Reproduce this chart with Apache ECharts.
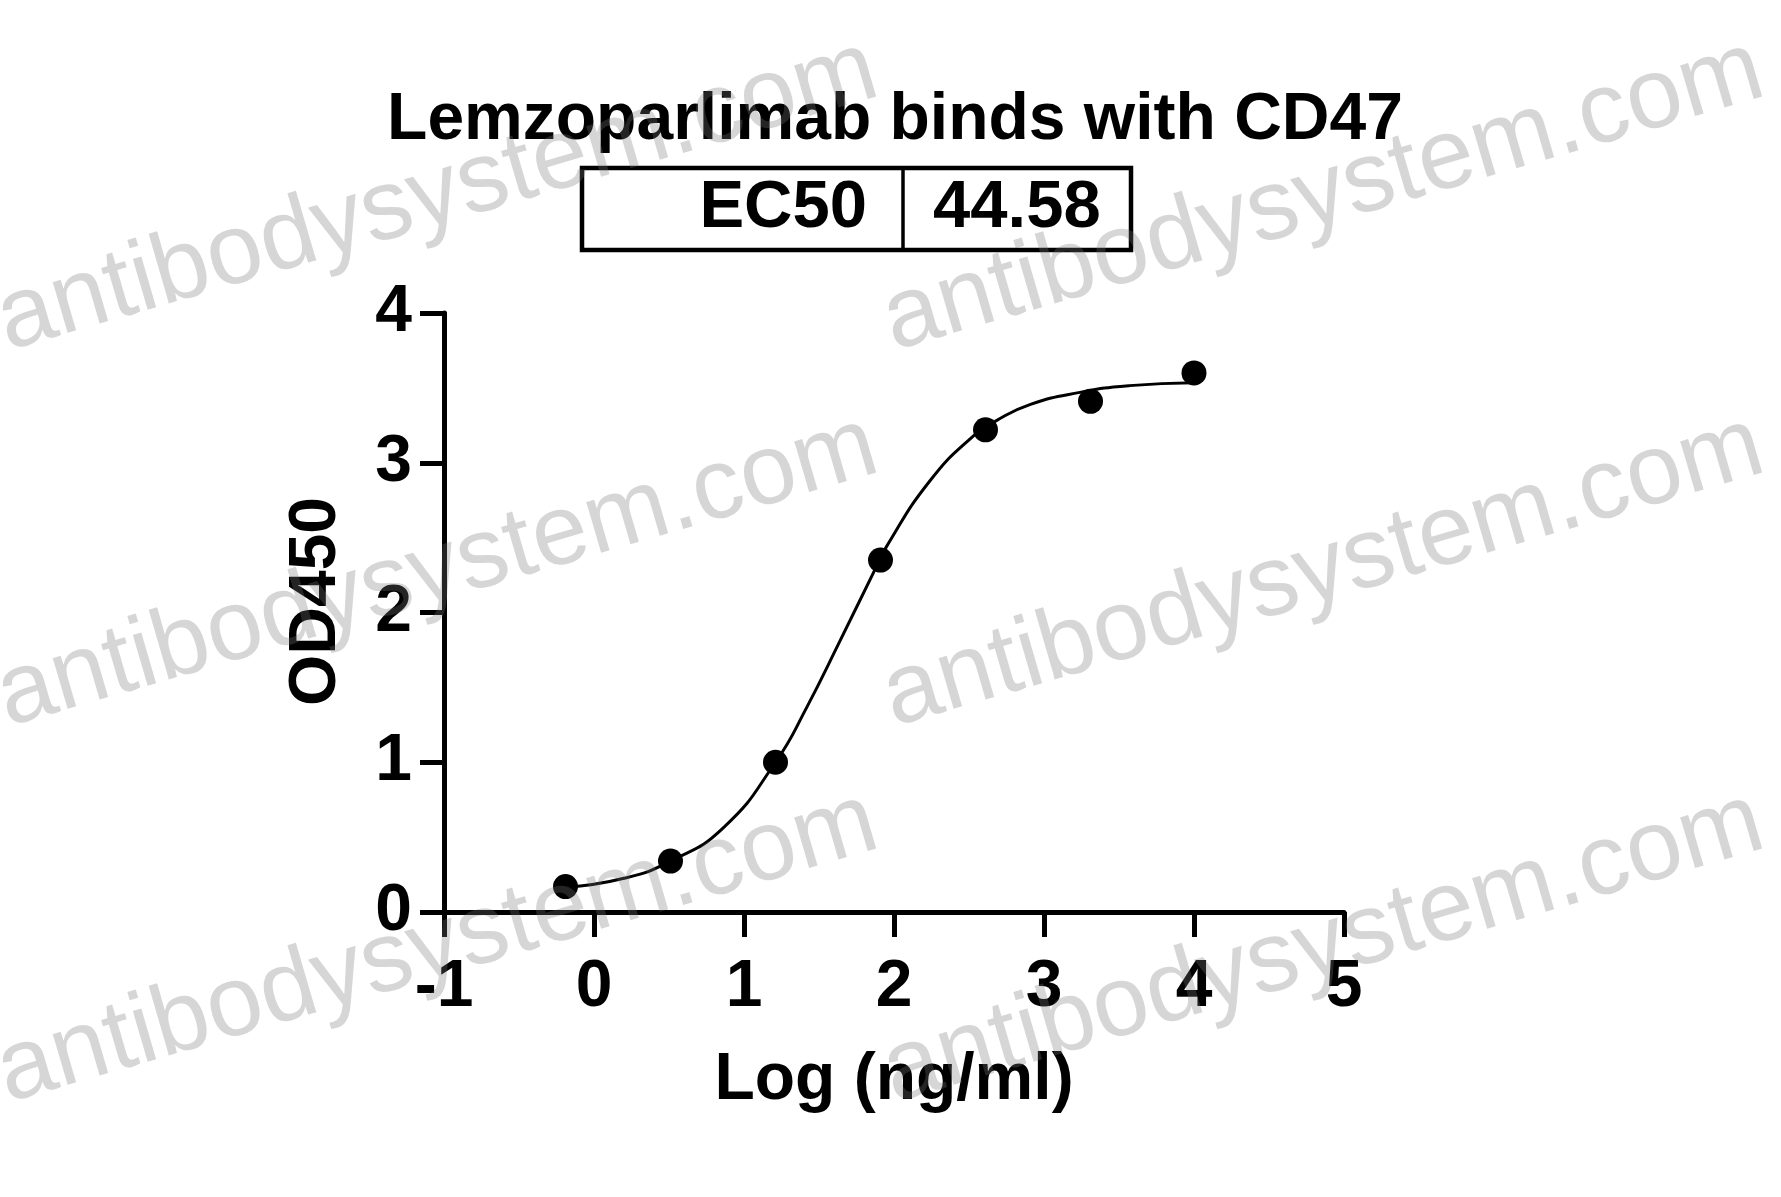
<!DOCTYPE html>
<html>
<head>
<meta charset="utf-8">
<script src="https://cdn.jsdelivr.net/npm/echarts@6/dist/echarts.min.js"></script>
<style>
html,body{margin:0;padding:0;background:#fff;}
#chart{width:1781px;height:1197px;}
</style>
</head>
<body>
<div id="chart"></div>
<script>
// ---- data ----
const titleText = 'Lemzoparlimab binds with CD47';
const ec50Label = 'EC50';
const ec50Value = '44.58';
const xAxisName = 'Log (ng/ml)';
const yAxisName = 'OD450';
const watermarkText = 'antibodysystem.com';

// measured points (log concentration, OD450)
const pointX = [-0.19, 0.51, 1.21, 1.91, 2.61, 3.31, 4.0];
const pointY = [0.17, 0.34, 1.0, 2.35, 3.22, 3.41, 3.60];

// fitted curve
const curveX = [-0.19, 0.20, 0.51, 0.86, 1.21, 1.42, 1.64, 1.86, 1.95, 2.24, 2.53, 2.68, 2.91, 3.24, 3.57, 4.0];
const curveY = [0.165, 0.225, 0.34, 0.56, 1.0, 1.37, 1.81, 2.26, 2.44, 2.88, 3.18, 3.28, 3.39, 3.47, 3.515, 3.535];

const xTicks = [-1, 0, 1, 2, 3, 4, 5];
const yTicks = [0, 1, 2, 3, 4];

const FONT = '"Liberation Sans", Arial, Helvetica, sans-serif';

const chart = echarts.init(document.getElementById('chart'), null, {renderer: 'canvas'});

const pts = pointX.map((x, i) => [x, pointY[i]]);
const curve = curveX.map((x, i) => [x, curveY[i]]);

// watermark anchors
const wmAnchors = [[14, 372], [900, 372], [14, 748], [900, 748], [14, 1124], [900, 1124]];
const wmAngle = 16.3 * Math.PI / 180;

const graphics = [
  {
    type: 'text', x: 895, y: 121, z: 10,
    style: {text: titleText, font: 'bold 66px ' + FONT, fill: '#000', align: 'center', verticalAlign: 'middle'}
  },
  {
    type: 'rect', x: 582, y: 168, z: 10,
    shape: {width: 549, height: 82},
    style: {fill: 'none', stroke: '#000', lineWidth: 4.5}
  },
  {
    type: 'line', z: 10,
    shape: {x1: 903, y1: 168, x2: 903, y2: 250},
    style: {stroke: '#000', lineWidth: 3.5}
  },
  {
    type: 'text', x: 867, y: 209, z: 10,
    style: {text: ec50Label, font: 'bold 67px ' + FONT, fill: '#000', align: 'right', verticalAlign: 'middle'}
  },
  {
    type: 'text', x: 933, y: 209, z: 10,
    style: {text: ec50Value, font: 'bold 67px ' + FONT, fill: '#000', align: 'left', verticalAlign: 'middle'}
  }
];
wmAnchors.forEach(a => {
  graphics.push({
    type: 'text', x: a[0], y: a[1], rotation: wmAngle, z: 100, silent: true,
    style: {text: watermarkText, font: '100px ' + FONT, fill: 'rgba(120,120,120,0.3)', align: 'left', verticalAlign: 'bottom'}
  });
});

chart.setOption({
  backgroundColor: '#fff',
  animation: false,
  grid: {left: 444, right: 437, top: 313, bottom: 285, containLabel: false},
  xAxis: {
    type: 'value', min: xTicks[0], max: xTicks[xTicks.length - 1], interval: 1,
    name: xAxisName, nameLocation: 'middle', nameGap: 136,
    nameTextStyle: {fontFamily: FONT, fontWeight: 'bold', fontSize: 66, color: '#000'},
    axisLine: {show: true, onZero: false, lineStyle: {color: '#000', width: 5}},
    axisTick: {show: true, length: 25, lineStyle: {color: '#000', width: 5}},
    axisLabel: {show: true, margin: 43, fontFamily: FONT, fontWeight: 'bold', fontSize: 66, color: '#000'},
    splitLine: {show: false}
  },
  yAxis: {
    type: 'value', min: yTicks[0], max: yTicks[yTicks.length - 1], interval: 1,
    name: yAxisName, nameLocation: 'middle', nameGap: 94, nameRotate: 90,
    nameTextStyle: {fontFamily: FONT, fontWeight: 'bold', fontSize: 66, color: '#000', padding: [0, 0, 0, 22]},
    axisLine: {show: true, onZero: false, lineStyle: {color: '#000', width: 5}},
    axisTick: {show: true, length: 24, lineStyle: {color: '#000', width: 5}},
    axisLabel: {show: true, margin: 32, fontFamily: FONT, fontWeight: 'bold', fontSize: 66, color: '#000'},
    splitLine: {show: false}
  },
  series: [
    {
      type: 'line', data: curve, smooth: 0.5, showSymbol: false, symbol: 'none',
      lineStyle: {color: '#000', width: 3}, z: 2
    },
    {
      type: 'scatter', data: pts, symbol: 'circle', symbolSize: 25,
      itemStyle: {color: '#000', opacity: 1}, z: 3
    }
  ],
  graphic: graphics
});
</script>
</body>
</html>
